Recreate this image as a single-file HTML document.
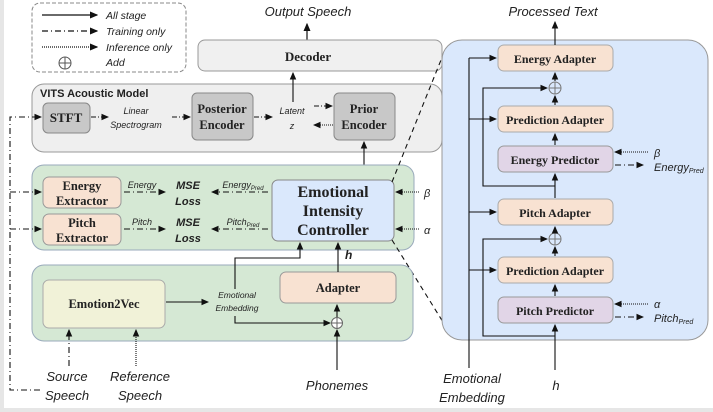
<!DOCTYPE html>
<html><head><meta charset="utf-8"><style>
body{margin:0;background:#fff}
svg{display:block;font-family:"Liberation Sans",sans-serif}
.b{font-family:"Liberation Serif",serif;font-weight:bold;fill:#222}
.i{font-style:italic;fill:#222}
</style></head><body>
<svg width="713" height="412" viewBox="0 0 713 412" xmlns="http://www.w3.org/2000/svg">
<defs>
<marker id="a" markerWidth="7" markerHeight="6" refX="6" refY="3" orient="auto"><path d="M0,0L7,3L0,6z" fill="#111"/></marker>
</defs>
<rect x="0" y="0" width="713" height="412" fill="#fff"/>
<rect x="0" y="0" width="4" height="412" fill="#e6e6e6"/>
<rect x="0" y="408" width="713" height="4" fill="#e6e6e6"/>
<!-- legend -->
<rect x="32" y="3" width="154" height="69" rx="8" fill="#fff" stroke="#888" stroke-dasharray="4,2"/>
<g stroke="#111" stroke-width="1.2">
<line x1="42" y1="15" x2="97" y2="15" marker-end="url(#a)"/>
<line x1="42" y1="31" x2="97" y2="31" stroke-dasharray="6,3,1,3" marker-end="url(#a)"/>
<line x1="42" y1="47" x2="97" y2="47" stroke-dasharray="1,1" marker-end="url(#a)"/>
</g>
<circle cx="65" cy="63" r="6" fill="none" stroke="#555"/><line x1="59" y1="63" x2="71" y2="63" stroke="#555"/><line x1="65" y1="57" x2="65" y2="69" stroke="#555"/>
<g class="i" font-size="10.5"><text x="106" y="19">All stage</text><text x="106" y="35">Training only</text><text x="106" y="51">Inference only</text><text x="106" y="66">Add</text></g>
<!-- decoder -->
<text x="308" y="16" class="i" font-size="13" text-anchor="middle">Output Speech</text>
<line x1="307" y1="40" x2="307" y2="24" stroke="#111" stroke-width="1.2" marker-end="url(#a)"/>
<rect x="198" y="40" width="244" height="31" rx="7" fill="#f0f0f0" stroke="#999"/>
<text x="308" y="61" class="b" font-size="13" text-anchor="middle">Decoder</text>
<!-- VITS -->
<rect x="32" y="84" width="410" height="68" rx="12" fill="#efefef" stroke="#999"/>
<text x="40" y="97" font-weight="bold" font-size="11" fill="#222">VITS Acoustic Model</text>
<rect x="43" y="103" width="47" height="30" rx="5" fill="#c8c8c8" stroke="#888"/>
<text x="66" y="122" class="b" font-size="13" text-anchor="middle">STFT</text>
<rect x="192" y="93" width="61" height="47" rx="5" fill="#c8c8c8" stroke="#888"/>
<text x="222" y="113" class="b" font-size="12.5" text-anchor="middle">Posterior</text><text x="222" y="129" class="b" font-size="12.5" text-anchor="middle">Encoder</text>
<rect x="334" y="93" width="61" height="47" rx="5" fill="#c8c8c8" stroke="#888"/>
<text x="364" y="113" class="b" font-size="12.5" text-anchor="middle">Prior</text><text x="364" y="129" class="b" font-size="12.5" text-anchor="middle">Encoder</text>
<text x="136" y="114" class="i" font-size="9" text-anchor="middle">Linear</text><text x="136" y="128" class="i" font-size="9" text-anchor="middle">Spectrogram</text>
<text x="292" y="114" class="i" font-size="9" text-anchor="middle">Latent</text><text x="292" y="129" class="i" font-size="9" text-anchor="middle">z</text>
<g stroke="#111" stroke-width="1.1" fill="none">
<line x1="91" y1="117" x2="108" y2="117" stroke-dasharray="5,2,1,2" marker-end="url(#a)"/>
<line x1="172" y1="117" x2="190" y2="117" stroke-dasharray="5,2,1,2" marker-end="url(#a)"/>
<line x1="254" y1="117" x2="272" y2="117" stroke-dasharray="5,2,1,2" marker-end="url(#a)"/>
<line x1="314" y1="106" x2="332" y2="106" stroke-dasharray="5,2,1,2" marker-end="url(#a)"/>
<line x1="333" y1="125" x2="314" y2="125" stroke-dasharray="1,1" marker-end="url(#a)"/>
<line x1="293" y1="102" x2="293" y2="73" marker-end="url(#a)"/>
<line x1="364" y1="180" x2="364" y2="142" marker-end="url(#a)"/>
<path d="M40,390 L10,390 L10,117 L41,117" stroke-dasharray="6,3,1,3" marker-end="url(#a)"/>
</g>
<!-- green 1 -->
<rect x="32" y="165" width="382" height="85" rx="12" fill="#d5e8d4" stroke="#9ab"/>
<rect x="43" y="177" width="78" height="31" rx="6" fill="#f8e2d2" stroke="#999"/>
<text x="82" y="190" class="b" font-size="12.5" text-anchor="middle">Energy</text><text x="82" y="205" class="b" font-size="12.5" text-anchor="middle">Extractor</text>
<rect x="43" y="214" width="78" height="31" rx="6" fill="#f8e2d2" stroke="#999"/>
<text x="82" y="227" class="b" font-size="12.5" text-anchor="middle">Pitch</text><text x="82" y="242" class="b" font-size="12.5" text-anchor="middle">Extractor</text>
<text x="142" y="188" class="i" font-size="9" text-anchor="middle">Energy</text>
<text x="142" y="225" class="i" font-size="9" text-anchor="middle">Pitch</text>
<g class="i" font-size="11" font-weight="bold" text-anchor="middle"><text x="188" y="189">MSE</text><text x="188" y="205">Loss</text><text x="188" y="226">MSE</text><text x="188" y="242">Loss</text></g>
<text x="243" y="188" class="i" font-size="9" text-anchor="middle">Energy<tspan font-size="6" dy="2">Pred</tspan></text>
<text x="243" y="225" class="i" font-size="9" text-anchor="middle">Pitch<tspan font-size="6" dy="2">Pred</tspan></text>
<rect x="272" y="180" width="122" height="61" rx="6" fill="#dae8fc" stroke="#888"/>
<g class="b" font-size="16" text-anchor="middle"><text x="333" y="197">Emotional</text><text x="333" y="216">Intensity</text><text x="333" y="235">Controller</text></g>
<text x="424" y="197" class="i" font-size="11">β</text><text x="424" y="234" class="i" font-size="11">α</text>
<g stroke="#111" stroke-width="1.1" fill="none">
<line x1="10" y1="192" x2="41" y2="192" stroke-dasharray="6,3,1,3" marker-end="url(#a)"/>
<line x1="10" y1="229" x2="41" y2="229" stroke-dasharray="6,3,1,3" marker-end="url(#a)"/>
<line x1="124" y1="192" x2="165" y2="192" stroke-dasharray="6,3,1,3" marker-end="url(#a)"/>
<line x1="124" y1="229" x2="165" y2="229" stroke-dasharray="6,3,1,3" marker-end="url(#a)"/>
<line x1="268" y1="192" x2="212" y2="192" stroke-dasharray="6,3,1,3" marker-end="url(#a)"/>
<line x1="268" y1="229" x2="212" y2="229" stroke-dasharray="6,3,1,3" marker-end="url(#a)"/>
<line x1="419" y1="192" x2="396" y2="192" stroke-dasharray="1,1" marker-end="url(#a)"/>
<line x1="419" y1="229" x2="396" y2="229" stroke-dasharray="1,1" marker-end="url(#a)"/>
<line x1="392" y1="182" x2="443" y2="55" stroke-dasharray="5,4"/>
<line x1="392" y1="240" x2="443" y2="322" stroke-dasharray="5,4"/>
</g>
<!-- green 2 -->
<rect x="32" y="265" width="381" height="76" rx="12" fill="#d5e8d4" stroke="#9ab"/>
<rect x="43" y="280" width="122" height="48" rx="6" fill="#f1f2d8" stroke="#aaa"/>
<text x="104" y="308" class="b" font-size="12.5" text-anchor="middle">Emotion2Vec</text>
<rect x="280" y="272" width="116" height="31" rx="6" fill="#f8e2d2" stroke="#999"/>
<text x="338" y="292" class="b" font-size="12.5" text-anchor="middle">Adapter</text>
<text x="237" y="298" class="i" font-size="8.5" text-anchor="middle">Emotional</text><text x="237" y="311" class="i" font-size="8.5" text-anchor="middle">Embedding</text>
<circle cx="337" cy="323" r="5.5" fill="#fff" stroke="#666"/><line x1="331.5" y1="323" x2="342.5" y2="323" stroke="#666"/><line x1="337" y1="317.5" x2="337" y2="328.5" stroke="#666"/>
<text x="345" y="259" class="i" font-size="12" font-weight="bold">h</text>
<g stroke="#111" stroke-width="1.1" fill="none">
<line x1="166" y1="302" x2="208" y2="302" marker-end="url(#a)"/>
<path d="M235,289 L235,258 L300,258 L300,243" marker-end="url(#a)"/>
<line x1="338" y1="272" x2="338" y2="243" marker-end="url(#a)"/>
<path d="M235,316 L235,323 L330,323" marker-end="url(#a)"/>
<line x1="337" y1="317" x2="337" y2="305" marker-end="url(#a)"/>
<line x1="337" y1="370" x2="337" y2="330" marker-end="url(#a)"/>
<line x1="69" y1="366" x2="69" y2="330" stroke-dasharray="6,3,1,3" marker-end="url(#a)"/>
<line x1="136" y1="366" x2="136" y2="330" stroke-dasharray="1,1" marker-end="url(#a)"/>
</g>
<g class="i" font-size="13" text-anchor="middle"><text x="67" y="381">Source</text><text x="67" y="400">Speech</text><text x="140" y="381">Reference</text><text x="140" y="400">Speech</text><text x="337" y="390">Phonemes</text></g>
<!-- right panel -->
<text x="553" y="16" class="i" font-size="13" text-anchor="middle">Processed Text</text>
<rect x="442" y="40" width="266" height="300" rx="20" fill="#dae8fc" stroke="#999"/>
<g fill="#f8e2d2" stroke="#aaa"><rect x="498" y="45" width="115" height="26" rx="6"/><rect x="498" y="106" width="115" height="26" rx="6"/><rect x="498" y="199" width="115" height="26" rx="6"/><rect x="498" y="257" width="115" height="26" rx="6"/></g>
<g fill="#e1d5e7" stroke="#999"><rect x="498" y="146" width="115" height="26" rx="6"/><rect x="498" y="297" width="115" height="26" rx="6"/></g>
<g class="b" font-size="12" text-anchor="middle"><text x="555" y="63">Energy Adapter</text><text x="555" y="124">Prediction Adapter</text><text x="555" y="164">Energy Predictor</text><text x="555" y="217">Pitch Adapter</text><text x="555" y="275">Prediction Adapter</text><text x="555" y="315">Pitch Predictor</text></g>
<g fill="none" stroke="#777"><circle cx="555" cy="88" r="6"/><circle cx="555" cy="239" r="6"/></g>
<g stroke="#777"><line x1="549" y1="88" x2="561" y2="88"/><line x1="555" y1="82" x2="555" y2="94"/><line x1="549" y1="239" x2="561" y2="239"/><line x1="555" y1="233" x2="555" y2="245"/></g>
<g stroke="#111" stroke-width="1.1" fill="none">
<line x1="555" y1="45" x2="555" y2="22" marker-end="url(#a)"/>
<line x1="555" y1="81" x2="555" y2="73" marker-end="url(#a)"/>
<line x1="555" y1="105" x2="555" y2="96" marker-end="url(#a)"/>
<line x1="555" y1="145" x2="555" y2="134" marker-end="url(#a)"/>
<line x1="555" y1="198" x2="555" y2="174" marker-end="url(#a)"/>
<line x1="555" y1="232" x2="555" y2="227" marker-end="url(#a)"/>
<line x1="555" y1="256" x2="555" y2="247" marker-end="url(#a)"/>
<line x1="555" y1="296" x2="555" y2="285" marker-end="url(#a)"/>
<line x1="555" y1="370" x2="555" y2="325" marker-end="url(#a)"/>
<path d="M555,186 L483,186 L483,88 L547,88" marker-end="url(#a)"/>
<path d="M555,336 L483,336 L483,239 L547,239" marker-end="url(#a)"/>
<line x1="469" y1="368" x2="469" y2="58"/>
<line x1="469" y1="58" x2="496" y2="58" marker-end="url(#a)"/>
<line x1="469" y1="119" x2="496" y2="119" marker-end="url(#a)"/>
<line x1="469" y1="212" x2="496" y2="212" marker-end="url(#a)"/>
<line x1="469" y1="270" x2="496" y2="270" marker-end="url(#a)"/>
<line x1="648" y1="152" x2="615" y2="152" stroke-dasharray="1,1" marker-end="url(#a)"/>
<line x1="615" y1="165" x2="643" y2="165" stroke-dasharray="6,3,1,3" marker-end="url(#a)"/>
<line x1="648" y1="304" x2="615" y2="304" stroke-dasharray="1,1" marker-end="url(#a)"/>
<line x1="615" y1="317" x2="643" y2="317" stroke-dasharray="6,3,1,3" marker-end="url(#a)"/>
</g>
<g class="i" font-size="11"><text x="654" y="157">β</text><text x="654" y="171">Energy<tspan font-size="7" dy="2">Pred</tspan></text><text x="654" y="308">α</text><text x="654" y="322">Pitch<tspan font-size="7" dy="2">Pred</tspan></text></g>
<g class="i" font-size="13" text-anchor="middle"><text x="472" y="383">Emotional</text><text x="472" y="402">Embedding</text><text x="556" y="390">h</text></g>
</svg>
</body></html>
